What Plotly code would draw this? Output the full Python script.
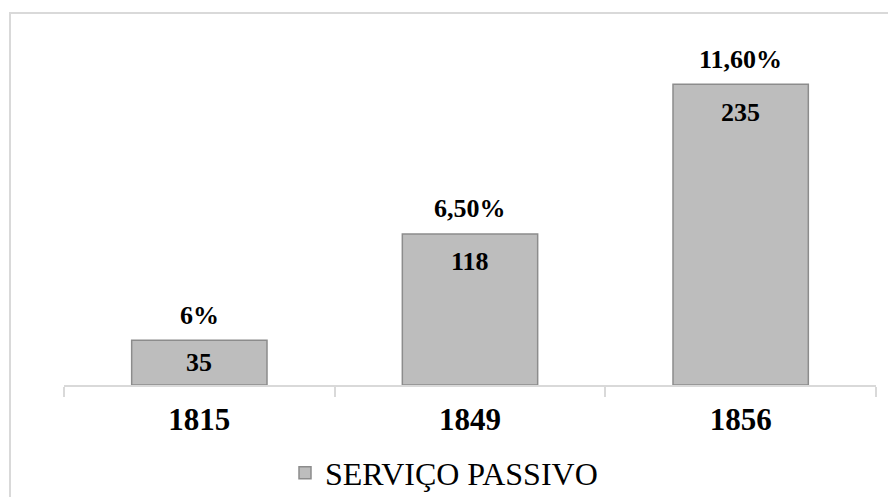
import plotly.graph_objects as go

# Data
years = ["1815", "1849", "1856"]
servico_passivo = [35, 118, 235]
percent_labels = ["6%", "6,50%", "11,60%"]

series_name = "SERVIÇO PASSIVO"
y_max = 250

# Layout geometry (pixels)
W, H = 888, 497
M_L, M_R, M_T, M_B = 64, 12, 65, 112
plot_h = H - M_T - M_B
px_per_unit = plot_h / y_max

SERIF = "Liberation Serif, Times New Roman, serif"
AXIS_GREY = "#d9d9d9"

fig = go.Figure()
fig.add_trace(
    go.Bar(
        x=years,
        y=servico_passivo,
        name=series_name,
        marker=dict(color="#bdbdbd", line=dict(color="#8c8c8c", width=1.5)),
        showlegend=True,
        hoverinfo="x+y",
    )
)

annotations = []
for idx, (val, pct) in enumerate(zip(servico_passivo, percent_labels)):
    # percentage above the bar (x given as category index)
    annotations.append(
        dict(
            x=idx, y=val, xref="x", yref="y",
            text=pct, showarrow=False,
            yanchor="middle", yshift=25,
            font=dict(family=SERIF, size=26, color="#000000", weight="bold"),
        )
    )
    # value inside the top of the bar
    inside_shift = -min(28, val * px_per_unit / 2)
    annotations.append(
        dict(
            x=idx, y=val, xref="x", yref="y",
            text=str(val), showarrow=False,
            yanchor="middle", yshift=inside_shift,
            font=dict(family=SERIF, size=26, color="#000000", weight="bold"),
        )
    )

fig.update_layout(
    width=W,
    height=H,
    margin=dict(l=M_L, r=M_R, t=M_T, b=M_B, autoexpand=False),
    paper_bgcolor="white",
    plot_bgcolor="white",
    bargap=0.5,
    annotations=annotations,
    showlegend=True,
    legend=dict(
        orientation="h",
        xref="container", yref="container",
        x=0.5, xanchor="center",
        y=1 - 473 / H, yanchor="middle",
        font=dict(family=SERIF, size=32, color="#000000"),
        bgcolor="rgba(0,0,0,0)",
    ),
    xaxis=dict(
        type="category",
        categoryorder="array",
        categoryarray=years,
        range=[-0.5, len(years) - 0.5],
        showline=True,
        linecolor=AXIS_GREY,
        linewidth=1.5,
        ticks="outside",
        tickson="boundaries",
        ticklen=10,
        tickcolor=AXIS_GREY,
        tickwidth=1.5,
        showgrid=False,
        tickangle=0,
        tickfont=dict(family=SERIF, size=31, color="#000000", weight="bold"),
        ticklabelstandoff=6,
    ),
    yaxis=dict(
        range=[0, y_max],
        visible=False,
        showgrid=False,
        zeroline=False,
    ),
    shapes=[
        # chart area frame
        dict(
            type="rect",
            xref="paper", yref="paper",
            x0=(10 - M_L) / (W - M_L - M_R),
            x1=(W + 5 - M_L) / (W - M_L - M_R),
            y0=-(M_B + 5) / plot_h,
            y1=1 + (M_T - 13) / plot_h,
            line=dict(color=AXIS_GREY, width=2),
            fillcolor="rgba(0,0,0,0)",
            layer="below",
        )
    ],
)

fig.write_html("out.html")
